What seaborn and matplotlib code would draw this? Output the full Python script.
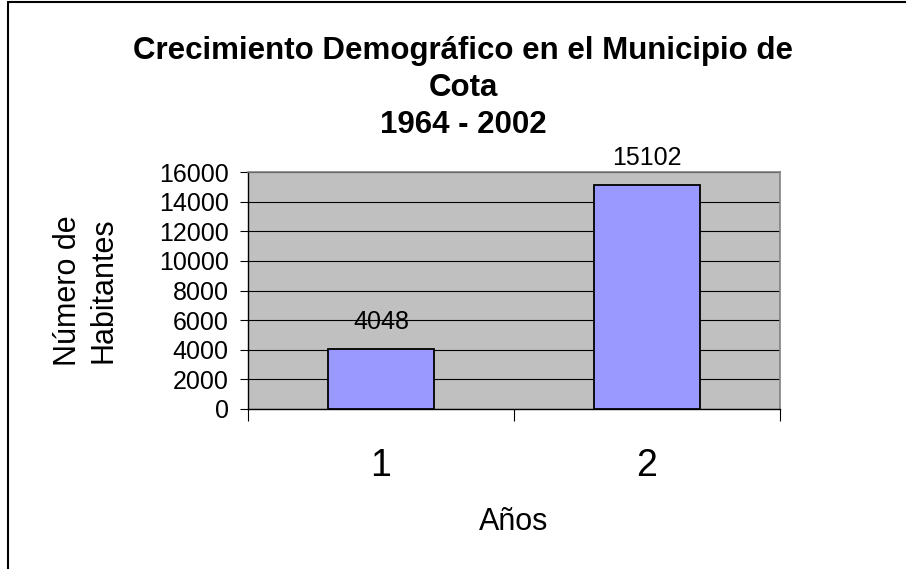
import matplotlib
matplotlib.use("Agg")
import matplotlib.pyplot as plt
from matplotlib.lines import Line2D
import seaborn as sns
import pandas as pd

# Data
categories = ["1", "2"]
values = [4048, 15102]
title_lines = ["Crecimiento Demográfico en el Municipio de", "Cota", "1964 - 2002"]
ylabel_text = "Número de\nHabitantes"
xlabel_text = "Años"
yticks = [0, 2000, 4000, 6000, 8000, 10000, 12000, 14000, 16000]

sns.set_theme(style="white")
plt.rcParams['font.family'] = ['Liberation Sans', 'DejaVu Sans']
plt.rcParams['text.color'] = 'black'
plt.rcParams['axes.labelcolor'] = 'black'
plt.rcParams['xtick.color'] = 'black'
plt.rcParams['ytick.color'] = 'black'

W, H = 906, 569
fig = plt.figure(figsize=(W / 100, H / 100), dpi=100)
fig.patch.set_facecolor("white")

L, R, T, B = 248, 780, 172, 409
ax = fig.add_axes([L / W, 1 - B / H, (R - L) / W, (B - T) / H])
ax.set_facecolor("#C0C0C0")

df = pd.DataFrame({"cat": categories, "val": values})
sns.barplot(data=df, x="cat", y="val", ax=ax, color="#9999FF", saturation=1,
            edgecolor="black", linewidth=1.3, width=0.4, zorder=3)

ax.set_xlim(-0.5, len(categories) - 0.5)
ax.set_ylim(0, 16000)
ax.set_yticks(yticks)
ax.set_yticklabels([str(v) for v in yticks], fontsize=18, color="black")
ax.yaxis.grid(True, color="black", linewidth=0.8, zorder=1)
ax.set_axisbelow(True)
ax.tick_params(axis="y", direction="out", length=6, width=0.8, color="black", pad=8, left=True)

# category tick marks at boundaries, labels at centers
ax.set_xticks([i - 0.5 for i in range(len(categories) + 1)])
ax.set_xticklabels([""] * (len(categories) + 1))
ax.set_xticks(range(len(categories)), minor=True)
ax.set_xticklabels(categories, minor=True, fontsize=27, color="black")
ax.tick_params(axis="x", which="major", direction="out", length=8.5, width=0.8, color="black", bottom=True)
ax.tick_params(axis="x", which="minor", length=0, pad=28)

for s in ["top", "right"]:
    ax.spines[s].set_color("#808080")
    ax.spines[s].set_linewidth(1.2)
for s in ["left", "bottom"]:
    ax.spines[s].set_color("black")
    ax.spines[s].set_linewidth(1.0)

ax.set_xlabel(xlabel_text, fontsize=22, va="center", color="black")
ax.xaxis.set_label_coords(0.5, (B - 522) / (B - T))
ax.set_ylabel(ylabel_text, fontsize=22, va="center", linespacing=1.25, color="black")
ax.yaxis.set_label_coords((86 - L) / (R - L), 0.5)

for i, v in enumerate(values):
    ax.annotate(str(v), (i, v), xytext=(0, 11), textcoords="offset points",
                ha="center", va="bottom", fontsize=18, color="black")

fig.text(463 / W, 1 - 36 / H, "\n".join(title_lines), ha="center", va="top",
         fontsize=22.5, fontweight="bold", linespacing=1.3, color="black")

# outer chart border (left and top visible)
fig.add_artist(Line2D([8 / W, 8 / W], [0, 1 - 1.5 / H], transform=fig.transFigure,
                      color="black", linewidth=1.5))
fig.add_artist(Line2D([8 / W, 1], [1 - 1.5 / H, 1 - 1.5 / H], transform=fig.transFigure,
                      color="black", linewidth=1.5))

fig.savefig("out.png", dpi=100)
